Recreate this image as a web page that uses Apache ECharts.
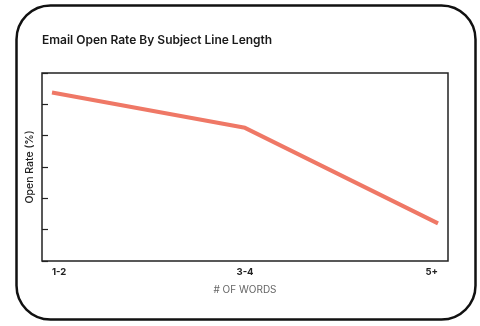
<!DOCTYPE html>
<html>
<head>
<meta charset="utf-8">
<script src="https://cdn.jsdelivr.net/npm/echarts@6/dist/echarts.min.js"></script>
<style>html,body{margin:0;padding:0;background:#fff;}#c{width:480px;height:326px;}</style>
</head>
<body>
<div id="c"></div>
<script>
const title = 'Email Open Rate By Subject Line Length';
const categories = ['1-2', '3-4', '5+'];
const openRate = [5.38, 4.25, 1.2];
const yName = 'Open Rate (%)';
const xName = '# OF WORDS';

const chart = echarts.init(document.getElementById('c'), null, {renderer: 'canvas'});
const font = 'Inter, "Noto Sans", sans-serif';
chart.setOption({
  animation: false,
  backgroundColor: '#fff',
  title: {
    text: title, left: 42, top: 34, padding: 0,
    textStyle: {fontFamily: font, fontSize: 12, fontWeight: 600, color: '#1a1a1a'}
  },
  graphic: [{
    type: 'rect', left: 14, top: 3, z: -1,
    shape: {width: 459, height: 314, r: 34},
    style: {fill: 'none', stroke: '#111', lineWidth: 2.5}
  }],
  grid: [
    {left: 42, top: 73, width: 406, height: 188, show: true, borderColor: '#222', borderWidth: 1.5, backgroundColor: 'transparent'},
    {left: 52, top: 73, width: 386, height: 188}
  ],
  xAxis: [
    {gridIndex: 0, type: 'value', min: 0, max: 1, show: false},
    {gridIndex: 1, type: 'category', data: categories, boundaryGap: false,
     axisLine: {show: false}, axisTick: {show: false},
     axisLabel: {margin: 6, fontFamily: font, fontSize: 9.5, fontWeight: 700, color: '#222', alignMinLabel: 'left', alignMaxLabel: 'right'},
     name: xName, nameLocation: 'middle', nameGap: 24,
     nameTextStyle: {fontFamily: font, fontSize: 10, color: '#666'}}
  ],
  yAxis: [
    {gridIndex: 0, type: 'value', min: 0, max: 6, interval: 1,
     axisLine: {show: false}, splitLine: {show: false},
     axisTick: {show: true, inside: true, length: 6, lineStyle: {color: '#222', width: 1.2}},
     axisLabel: {show: false},
     name: yName, nameLocation: 'middle', nameGap: 7,
     nameTextStyle: {fontFamily: font, fontSize: 10.5, fontWeight: 500, color: '#222'}},
    {gridIndex: 1, type: 'value', min: 0, max: 6, show: false}
  ],
  series: [{
    type: 'line', xAxisIndex: 1, yAxisIndex: 1, data: openRate,
    symbol: 'none', lineStyle: {color: '#ef7866', width: 4}
  }]
});
</script>
</body>
</html>
